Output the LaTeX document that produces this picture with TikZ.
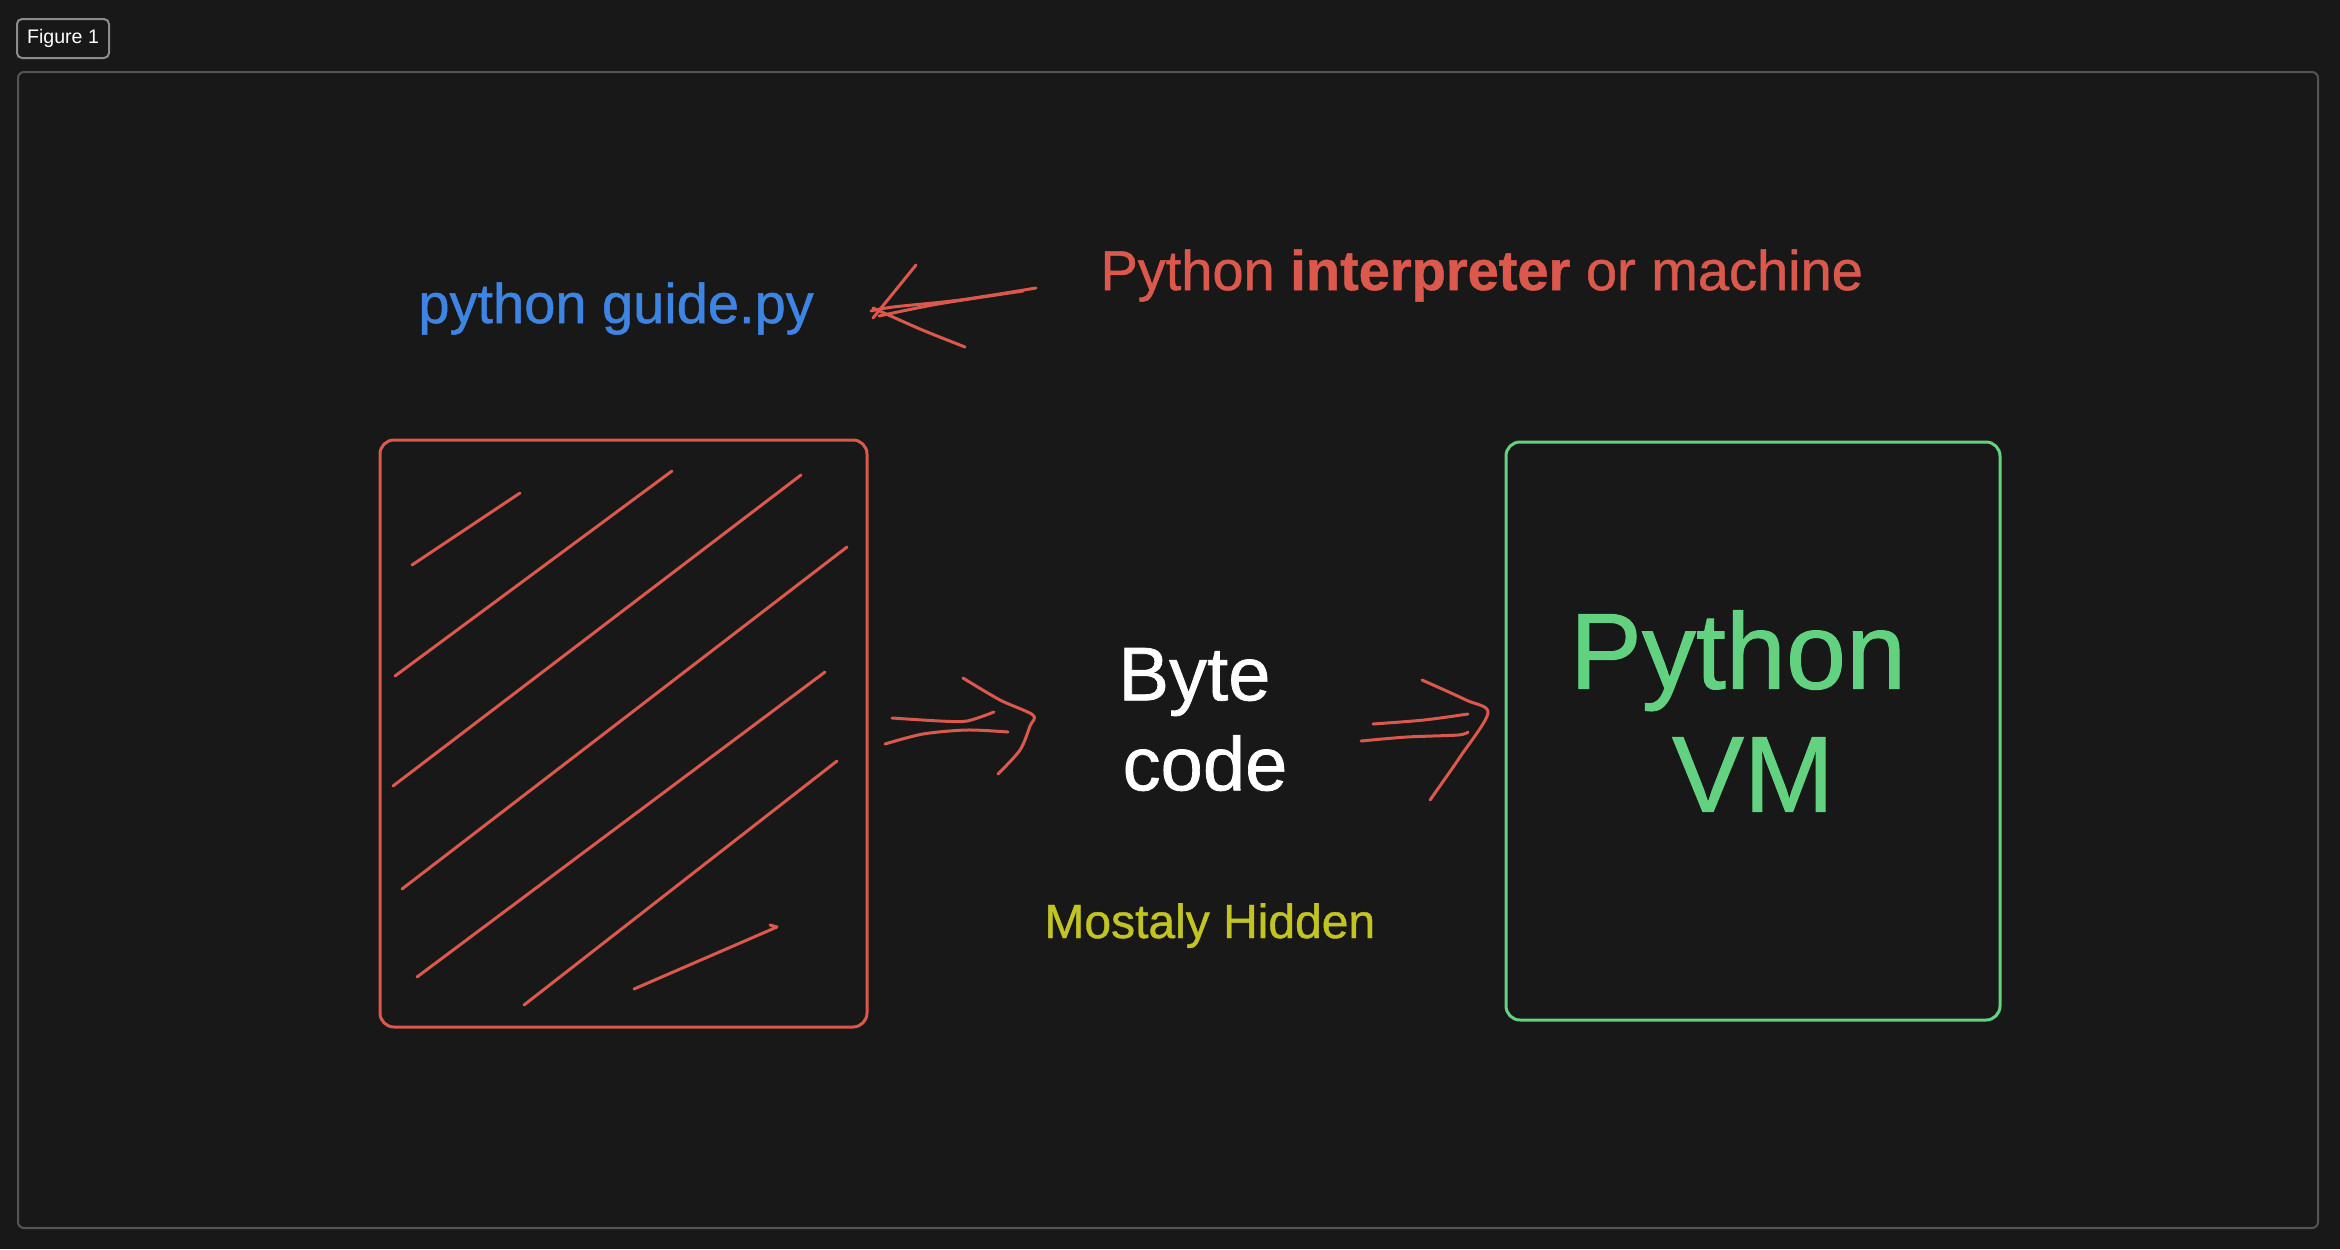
\documentclass[tikz,border=0pt]{standalone}
\usepackage{fontspec}
\setmainfont{Liberation Sans}
\newfontfamily\sketchfont[FakeBold=0.9]{Liberation Sans}
\usetikzlibrary{positioning}

\definecolor{bgdark}{RGB}{24,24,24}
\definecolor{framegray}{RGB}{84,84,84}
\definecolor{taggray}{RGB}{140,140,140}
\definecolor{sketchred}{RGB}{218,88,76}
\definecolor{codeblue}{RGB}{62,132,226}
\definecolor{vmgreen}{RGB}{98,210,128}
\definecolor{hintyellow}{RGB}{194,196,36}

\begin{document}
\begin{tikzpicture}[x=0.5pt,y=-0.5pt,
        pen/.style={sketchred,line width=1.5pt,line cap=round,line join=round},
        sketchbox/.style={draw,line width=1.5pt,rounded corners=7pt,inner sep=0pt},
        note/.style={inner sep=0pt,anchor=base west,font=\sketchfont\fontsize{28}{34}\selectfont}]

    \useasboundingbox[fill=bgdark] (0,0) rectangle (2340,1249);
    \draw[framegray,line width=1pt,rounded corners=3pt] (18,72) rectangle (2318,1228);
    \node[draw=taggray,line width=1pt,rounded corners=2.5pt,text=white,inner sep=0pt,
        minimum width=46pt,minimum height=19.5pt,font=\fontsize{9.8}{12}\selectfont] (tag) at (63,38.5) {Figure 1};

    % labels
    \node[note,text=codeblue] (script) at (418,323) {python guide.py};
    \node[note,text=sketchred] (interp) at (1100,290) {Python \textbf{interpreter} or machine};

    % boxes
    \node[sketchbox,draw=sketchred,minimum width=243.5pt,minimum height=293.5pt] (src) at (623.5,733.5) {};
    \node[sketchbox,draw=vmgreen,minimum width=247pt,minimum height=289pt] (vmbox) at (1753,731) {};

    \node[text=white,align=center,inner sep=0pt,font=\sketchfont\fontsize{38}{45}\selectfont] (bytecode) at (1205,719.5) {Byte\hspace*{.278em}\\code};
    \node[text=vmgreen,align=center,inner sep=0pt,font=\sketchfont\fontsize{54}{61.5}\selectfont] (vm) at ([yshift=10pt]vmbox.center) {Python\hspace*{.278em}\\VM};
    \node[note,text=hintyellow,font=\sketchfont\fontsize{24}{29}\selectfont] (hidden) at (1044,938) {Mostaly Hidden};

    % hatching
    \foreach \xa/\ya/\xb/\yb in {412/565/520/493, 395/676/672/471, 393/786/801/475,
            402/889/847/547, 417/977/825/672, 524/1005/837/761}
        \draw[pen] (\xa,\ya) -- (\xb,\yb);
    \draw[pen] (634,989) -- (777,927) -- (770,925);

    % hand drawn arrows
    \draw[pen] plot[smooth] coordinates {(1036,288) (960,300) (893,307) (871,311)};
    \draw[pen] plot[smooth] coordinates {(1023,291) (938,304) (879,316)};
    \draw[pen] (916,265) -- (873,318);
    \draw[pen] plot[smooth] coordinates {(873,308) (920,329) (965,347)};

    \draw[pen] plot[smooth] coordinates {(892,718) (940,721) (967,721) (994,712)};
    \draw[pen] plot[smooth] coordinates {(885,744) (923,734) (967,730) (1008,732)};
    \draw[pen] plot[smooth] coordinates {(963,678) (1000,700) (1033,715) (1030,726) (1020,750) (998,774)};

    \draw[pen] plot[smooth] coordinates {(1373,724) (1424,720) (1468,714)};
    \draw[pen] plot[smooth] coordinates {(1361,741) (1407,737) (1458,735) (1468,732)};
    \draw[pen] plot[smooth] coordinates {(1422,680) (1466,700) (1488,713) (1460,757) (1430,800)};

\end{tikzpicture}
\end{document}
